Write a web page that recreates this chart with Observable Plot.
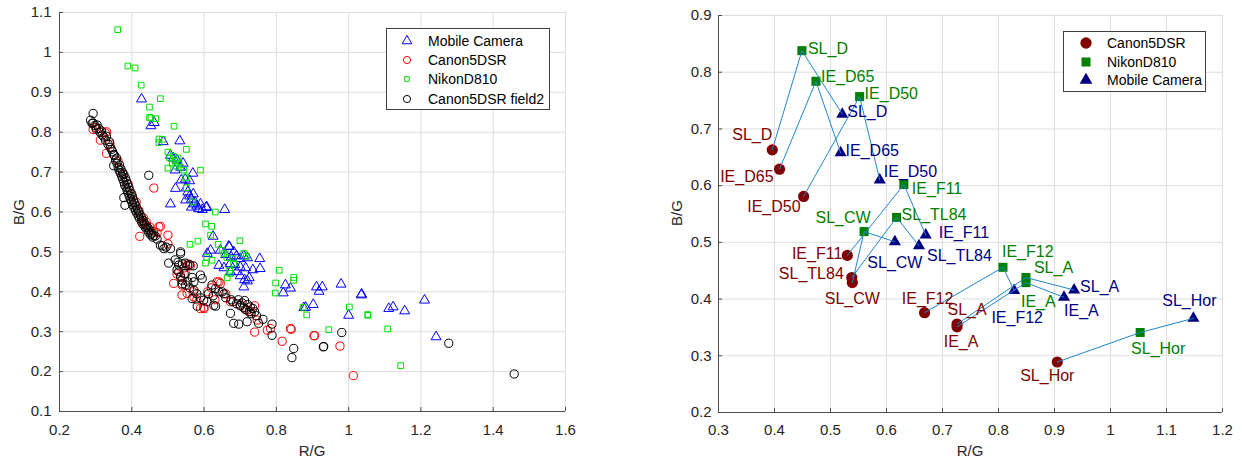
<!DOCTYPE html>
<html><head><meta charset="utf-8">
<script src="https://cdn.jsdelivr.net/npm/d3@7"></script>
<script src="https://cdn.jsdelivr.net/npm/@observablehq/plot@0.6"></script>
<style>
html,body{margin:0;padding:0;background:#fff;}
#root{position:relative;width:1242px;height:459px;overflow:hidden;font-family:"Liberation Sans",Arial,sans-serif;color:#262626;}
.panel{position:absolute;top:0;}
.atitle{position:absolute;font-size:15px;white-space:nowrap;transform:translate(-50%,-50%);}
.atitle.rot{transform:translate(-50%,-50%) rotate(-90deg);}
.legend{position:absolute;background:#fff;border:1px solid #404040;box-sizing:border-box;}
.legend .row{position:absolute;font-size:14px;color:#000;white-space:nowrap;transform:translateY(-50%);line-height:1;}
.legend svg{position:absolute;overflow:visible;}
</style></head><body><div id="root"></div>
<script>
// ---------------- Left panel data (R/G, B/G) ----------------
const leftSeries = ["Mobile Camera", "Canon5DSR", "NikonD810", "Canon5DSR field2"];
const leftXTicks = [0.2, 0.4, 0.6, 0.8, 1, 1.2, 1.4, 1.6];
const leftYTicks = [0.1, 0.2, 0.3, 0.4, 0.5, 0.6, 0.7, 0.8, 0.9, 1, 1.1];

const mobilePts = [[0.427,0.883],[0.453,0.816],[0.462,0.824],[0.487,0.776],[0.533,0.778],[0.507,0.742],[0.515,0.735],[0.525,0.730],[0.542,0.722],[0.535,0.712],[0.520,0.705],[0.569,0.697],[0.537,0.680],[0.548,0.682],[0.560,0.678],[0.521,0.659],[0.550,0.660],[0.555,0.650],[0.549,0.630],[0.507,0.620],[0.560,0.640],[0.565,0.632],[0.570,0.645],[0.575,0.625],[0.580,0.615],[0.585,0.608],[0.565,0.612],[0.572,0.620],[0.590,0.620],[0.595,0.606],[0.606,0.611],[0.607,0.613],[0.657,0.606],[0.625,0.539],[0.618,0.504],[0.609,0.496],[0.645,0.504],[0.668,0.514],[0.682,0.500],[0.670,0.513],[0.660,0.493],[0.675,0.487],[0.690,0.490],[0.700,0.483],[0.710,0.490],[0.720,0.485],[0.754,0.483],[0.641,0.466],[0.655,0.460],[0.672,0.470],[0.685,0.468],[0.700,0.462],[0.715,0.460],[0.735,0.455],[0.755,0.458],[0.690,0.450],[0.673,0.450],[0.700,0.440],[0.712,0.430],[0.720,0.427],[0.725,0.435],[0.710,0.412],[0.825,0.417],[0.839,0.409],[0.819,0.397],[0.881,0.361],[0.876,0.360],[0.902,0.368],[0.911,0.412],[0.927,0.412],[0.918,0.401],[0.979,0.419],[1.035,0.392],[1.036,0.394],[1.000,0.341],[1.111,0.358],[1.123,0.362],[1.155,0.352],[1.210,0.379],[1.242,0.287]];

const canonPts = [[0.293,0.807],[0.313,0.780],[0.330,0.801],[0.327,0.798],[0.330,0.747],[0.300,0.812],[0.340,0.770],[0.362,0.728],[0.375,0.695],[0.390,0.670],[0.400,0.645],[0.412,0.625],[0.420,0.603],[0.432,0.585],[0.440,0.575],[0.450,0.562],[0.461,0.660],[0.429,0.571],[0.479,0.564],[0.422,0.539],[0.500,0.542],[0.475,0.563],[0.470,0.548],[0.460,0.552],[0.500,0.520],[0.516,0.421],[0.539,0.392],[0.553,0.396],[0.525,0.445],[0.535,0.440],[0.549,0.446],[0.545,0.460],[0.555,0.470],[0.562,0.465],[0.539,0.417],[0.572,0.387],[0.590,0.358],[0.599,0.361],[0.600,0.358],[0.580,0.380],[0.570,0.400],[0.610,0.400],[0.620,0.410],[0.630,0.380],[0.636,0.425],[0.641,0.425],[0.645,0.421],[0.660,0.395],[0.673,0.375],[0.701,0.367],[0.719,0.354],[0.730,0.350],[0.740,0.365],[0.747,0.329],[0.740,0.299],[0.775,0.304],[0.784,0.308],[0.816,0.276],[0.839,0.308],[0.841,0.306],[0.906,0.290],[0.904,0.290],[0.976,0.264],[1.013,0.190]];

const nikonPts = [[0.361,1.057],[0.389,0.966],[0.409,0.961],[0.426,0.918],[0.479,0.884],[0.449,0.863],[0.449,0.837],[0.453,0.836],[0.466,0.834],[0.517,0.815],[0.475,0.783],[0.485,0.782],[0.475,0.774],[0.551,0.757],[0.500,0.750],[0.505,0.735],[0.515,0.740],[0.520,0.728],[0.528,0.735],[0.512,0.722],[0.522,0.715],[0.530,0.720],[0.500,0.710],[0.535,0.712],[0.544,0.705],[0.590,0.705],[0.549,0.686],[0.551,0.661],[0.569,0.625],[0.631,0.600],[0.604,0.570],[0.621,0.564],[0.618,0.542],[0.561,0.519],[0.583,0.527],[0.639,0.519],[0.699,0.528],[0.650,0.504],[0.655,0.496],[0.607,0.486],[0.604,0.472],[0.622,0.479],[0.663,0.486],[0.680,0.483],[0.710,0.496],[0.717,0.489],[0.682,0.471],[0.671,0.454],[0.673,0.446],[0.664,0.435],[0.808,0.454],[0.798,0.422],[0.848,0.436],[0.848,0.429],[0.797,0.397],[0.874,0.361],[0.884,0.342],[0.945,0.305],[1.002,0.362],[1.053,0.341],[1.053,0.343],[1.108,0.307],[1.144,0.215]];

const field2Pts = [[0.293,0.847],[0.286,0.830],[0.290,0.822],[0.293,0.823],[0.298,0.817],[0.304,0.818],[0.302,0.808],[0.309,0.809],[0.312,0.800],[0.316,0.803],[0.318,0.793],[0.323,0.788],[0.327,0.780],[0.330,0.790],[0.334,0.770],[0.338,0.776],[0.340,0.762],[0.344,0.757],[0.347,0.751],[0.350,0.744],[0.352,0.742],[0.355,0.730],[0.358,0.735],[0.359,0.722],[0.350,0.716],[0.362,0.712],[0.366,0.718],[0.365,0.705],[0.370,0.708],[0.368,0.698],[0.374,0.700],[0.372,0.690],[0.378,0.694],[0.375,0.683],[0.382,0.686],[0.378,0.676],[0.385,0.678],[0.380,0.668],[0.388,0.670],[0.384,0.662],[0.392,0.662],[0.387,0.655],[0.395,0.654],[0.390,0.648],[0.398,0.646],[0.393,0.640],[0.402,0.638],[0.396,0.632],[0.405,0.630],[0.400,0.625],[0.408,0.622],[0.403,0.618],[0.412,0.615],[0.406,0.611],[0.415,0.607],[0.410,0.604],[0.419,0.600],[0.414,0.597],[0.423,0.593],[0.418,0.590],[0.427,0.586],[0.422,0.583],[0.431,0.579],[0.427,0.576],[0.435,0.572],[0.432,0.569],[0.440,0.566],[0.437,0.562],[0.445,0.560],[0.442,0.556],[0.450,0.553],[0.447,0.549],[0.455,0.547],[0.452,0.543],[0.460,0.541],[0.458,0.537],[0.465,0.540],[0.470,0.532],[0.378,0.636],[0.381,0.617],[0.447,0.692],
[0.479,0.517],[0.485,0.515],[0.489,0.508],[0.507,0.508],[0.495,0.512],[0.502,0.472],[0.535,0.500],[0.535,0.496],[0.520,0.480],[0.528,0.474],[0.530,0.467],[0.540,0.470],[0.548,0.472],[0.555,0.466],[0.560,0.468],[0.570,0.465],[0.525,0.455],[0.530,0.450],[0.545,0.445],[0.535,0.437],[0.539,0.429],[0.549,0.417],[0.540,0.420],[0.555,0.425],[0.567,0.436],[0.572,0.425],[0.560,0.410],[0.572,0.404],[0.580,0.395],[0.567,0.383],[0.581,0.364],[0.590,0.442],[0.595,0.433],[0.590,0.385],[0.599,0.379],[0.608,0.375],[0.612,0.395],[0.622,0.417],[0.632,0.408],[0.641,0.400],[0.625,0.390],[0.627,0.366],[0.632,0.364],[0.650,0.400],[0.655,0.395],[0.660,0.385],[0.673,0.346],[0.682,0.321],[0.696,0.319],[0.675,0.380],[0.680,0.375],[0.690,0.370],[0.695,0.380],[0.700,0.365],[0.705,0.372],[0.710,0.360],[0.712,0.378],[0.715,0.355],[0.720,0.368],[0.725,0.350],[0.728,0.362],[0.730,0.345],[0.735,0.358],[0.740,0.350],[0.745,0.340],[0.719,0.325],[0.751,0.321],[0.763,0.331],[0.788,0.319],[0.788,0.291],[0.848,0.258],[0.843,0.235],[0.930,0.262],[0.931,0.263],[0.981,0.298],[1.277,0.271],[1.458,0.194]];

// ---------------- Right panel data ----------------
const rightSeries = ["Canon5DSR", "NikonD810", "Mobile Camera"];
const illuminants = ["SL_D","IE_D65","IE_D50","IE_F11","SL_TL84","SL_CW","IE_F12","SL_A","IE_A","SL_Hor"];
const canonRG  = [0.396,0.409,0.452,0.530,0.538,0.539,0.668,0.726,0.726,0.905];
const canonBG  = [0.663,0.629,0.581,0.477,0.438,0.429,0.376,0.356,0.351,0.289];
const nikonRG  = [0.449,0.474,0.552,0.631,0.618,0.560,0.808,0.849,0.849,1.053];
const nikonBG  = [0.838,0.784,0.757,0.602,0.544,0.519,0.456,0.438,0.429,0.341];
const mobileRG = [0.521,0.518,0.588,0.670,0.658,0.615,0.828,0.935,0.917,1.148];
const mobileBG = [0.726,0.658,0.610,0.513,0.494,0.501,0.415,0.416,0.403,0.366];
const rightXTicks = [0.3,0.4,0.5,0.6,0.7,0.8,0.9,1,1.1,1.2];
const rightYTicks = [0.2,0.3,0.4,0.5,0.6,0.7,0.8,0.9];

// ---------------- Styling / layout ----------------
const FONT = '"Liberation Sans", Arial, sans-serif';
const GRID = "#dedede";
const AXIS = "#4d4d4d";
const LINE = "#1f86cf";
const TICK = 4;
const fmt = d => String(+d.toFixed(1));
const rightStyle = {
  "Canon5DSR": {color: "#800000", symbol: "circle", r: 5.6},
  "NikonD810": {color: "#008000", symbol: "square", r: 5.1},
  "Mobile Camera": {color: "#000080", symbol: "triangle", r: 4.5}
};
// label placement per camera / illuminant: [textAnchor, dx, dy]
const labelLayout = {
  "Canon5DSR": {SL_D:["end",0,-15], IE_D65:["end",-6,8], IE_D50:["end",-3,10], IE_F11:["end",-5,-2], SL_TL84:["end",-8,-4], SL_CW:["middle",0,16], IE_F12:["middle",3,-14], SL_A:["middle",10,-14], IE_A:["middle",4,15], SL_Hor:["middle",-10,14]},
  "NikonD810": {SL_D:["start",6,-2], IE_D65:["start",5,-4], IE_D50:["start",5,-3], IE_F11:["start",8,4], SL_TL84:["start",5,-3], SL_CW:["middle",-21,-14], IE_F12:["start",-1,-15], SL_A:["start",8,-10], IE_A:["start",-5,19], SL_Hor:["middle",18,16]},
  "Mobile Camera": {SL_D:["start",5,-2], IE_D65:["start",5,-2], IE_D50:["start",4,-8], IE_F11:["start",13,-2], SL_TL84:["start",8,10], SL_CW:["middle",0,21], IE_F12:["middle",3,27], SL_A:["start",6,-3], IE_A:["start",0,14], SL_Hor:["middle",-4,-17]}
};

const root = document.getElementById("root");
const baseStyle = {fontFamily: FONT, fontSize: "15px", color: "#262626", background: "transparent", overflow: "visible"};

function frameMarks(xTicks, yTicks, xPad, yPad, plotW, plotH) {
  return [
    Plot.gridX(xTicks, {stroke: GRID, strokeOpacity: 1}),
    Plot.gridY(yTicks, {stroke: GRID, strokeOpacity: 1}),
    Plot.axisX(xTicks, {tickSize: 0, tickPadding: xPad, tickFormat: fmt, label: null}),
    Plot.axisY(yTicks, {tickSize: 0, tickPadding: yPad, tickFormat: fmt, label: null}),
    Plot.ruleX(xTicks, {stroke: AXIS, insetTop: plotH - TICK}),
    Plot.ruleY(yTicks, {stroke: AXIS, insetRight: plotW - TICK}),
    Plot.ruleX([xTicks[0]], {stroke: AXIS}),
    Plot.ruleY([yTicks[0]], {stroke: AXIS})
  ];
}

// ---------------- Left chart ----------------
const leftStyle = {
  "Mobile Camera": {data: mobilePts, symbol: "triangle", r: 3.7, stroke: "#0000ff"},
  "Canon5DSR": {data: canonPts, symbol: "circle", r: 4.1, stroke: "#ff0000"},
  "NikonD810": {data: nikonPts, symbol: "square", r: 3.2, stroke: "#00e000"},
  "Canon5DSR field2": {data: field2Pts, symbol: "circle", r: 4.1, stroke: "#000000"}
};
const left = Plot.plot({
  width: 620, height: 459,
  marginLeft: 59, marginRight: 55, marginTop: 12, marginBottom: 48,
  x: {domain: [0.2, 1.6]}, y: {domain: [0.1, 1.1]},
  style: baseStyle,
  marks: [
    ...frameMarks(leftXTicks, leftYTicks, 13, 8, 506, 399),
    ...leftSeries.map(name => {
      const s = leftStyle[name];
      return Plot.dot(s.data, {x: d => d[0], y: d => d[1], symbol: s.symbol, r: s.r, stroke: s.stroke, strokeWidth: 1, fill: "none"});
    })
  ]
});
left.classList.add("panel");
left.style.left = "0px";
root.appendChild(left);

// ---------------- Right chart ----------------
const camData = {
  "Canon5DSR": [canonRG, canonBG],
  "NikonD810": [nikonRG, nikonBG],
  "Mobile Camera": [mobileRG, mobileBG]
};
const rows = rightSeries.flatMap(cam => illuminants.map((il, i) => ({cam, illum: il, rg: camData[cam][0][i], bg: camData[cam][1][i]})));

const right = Plot.plot({
  width: 622, height: 459,
  marginLeft: 98, marginRight: 20, marginTop: 15, marginBottom: 47,
  x: {domain: [0.3, 1.2]}, y: {domain: [0.2, 0.9]},
  style: baseStyle,
  marks: [
    ...frameMarks(rightXTicks, rightYTicks, 12, 7, 504, 397),
    ...rightSeries.map(cam => Plot.dot(rows.filter(r => r.cam === cam), {x: "rg", y: "bg", symbol: rightStyle[cam].symbol, r: rightStyle[cam].r, fill: rightStyle[cam].color, stroke: "none"})),
    Plot.line(rows, {x: "rg", y: "bg", z: "illum", stroke: LINE, strokeWidth: 1}),
    ...rows.map(r => {
      const [anchor, dx, dy] = labelLayout[r.cam][r.illum];
      return Plot.text([r], {x: "rg", y: "bg", text: "illum", textAnchor: anchor, dx, dy, fill: rightStyle[r.cam].color, fontSize: 16});
    })
  ]
});
right.classList.add("panel");
right.style.left = "620px";
root.appendChild(right);

// ---------------- Axis titles ----------------
function title(text, x, y, rot) {
  const d = document.createElement("div");
  d.className = "atitle" + (rot ? " rot" : "");
  d.textContent = text;
  d.style.left = x + "px"; d.style.top = y + "px";
  root.appendChild(d);
}
title("B/G", 18, 212, true);
title("R/G", 312, 450, false);
title("B/G", 676, 213, true);
title("R/G", 970, 450, false);

// ---------------- Legends ----------------
function legend(box, entries) {
  const L = document.createElement("div");
  L.className = "legend";
  Object.assign(L.style, {left: box.x + "px", top: box.y + "px", width: box.w + "px", height: box.h + "px"});
  entries.forEach((e, i) => {
    const cy = box.rows[i];
    const svg = d3.create("svg").attr("width", 1).attr("height", 1)
      .style("left", box.sx + "px").style("top", cy + "px");
    svg.append("path")
      .attr("d", d3.symbol(e.type, e.size)())
      .attr("fill", e.fill).attr("stroke", e.stroke).attr("stroke-width", 1);
    L.appendChild(svg.node());
    const t = document.createElement("div");
    t.className = "row"; t.textContent = e.label;
    t.style.left = box.tx + "px"; t.style.top = cy + "px";
    L.appendChild(t);
  });
  root.appendChild(L);
}
legend({x: 386, y: 28, w: 164, h: 82, sx: 20, tx: 41, rows: [12, 30.5, 50, 69.5]}, [
  {label: leftSeries[0], type: d3.symbolTriangle, size: 40, fill: "none", stroke: "#0000ff"},
  {label: leftSeries[1], type: d3.symbolCircle, size: 40, fill: "none", stroke: "#ff0000"},
  {label: leftSeries[2], type: d3.symbolSquare, size: 22, fill: "none", stroke: "#00e000"},
  {label: leftSeries[3], type: d3.symbolCircle, size: 40, fill: "none", stroke: "#000000"}
]);
legend({x: 1063, y: 31, w: 143, h: 61, sx: 22, tx: 43, rows: [11, 29.5, 48]}, [
  {label: rightSeries[0], type: d3.symbolCircle, size: 100, fill: "#800000", stroke: "none"},
  {label: rightSeries[1], type: d3.symbolSquare, size: 81, fill: "#008000", stroke: "none"},
  {label: rightSeries[2], type: d3.symbolTriangle, size: 70, fill: "#000080", stroke: "none"}
]);
</script></body></html>
